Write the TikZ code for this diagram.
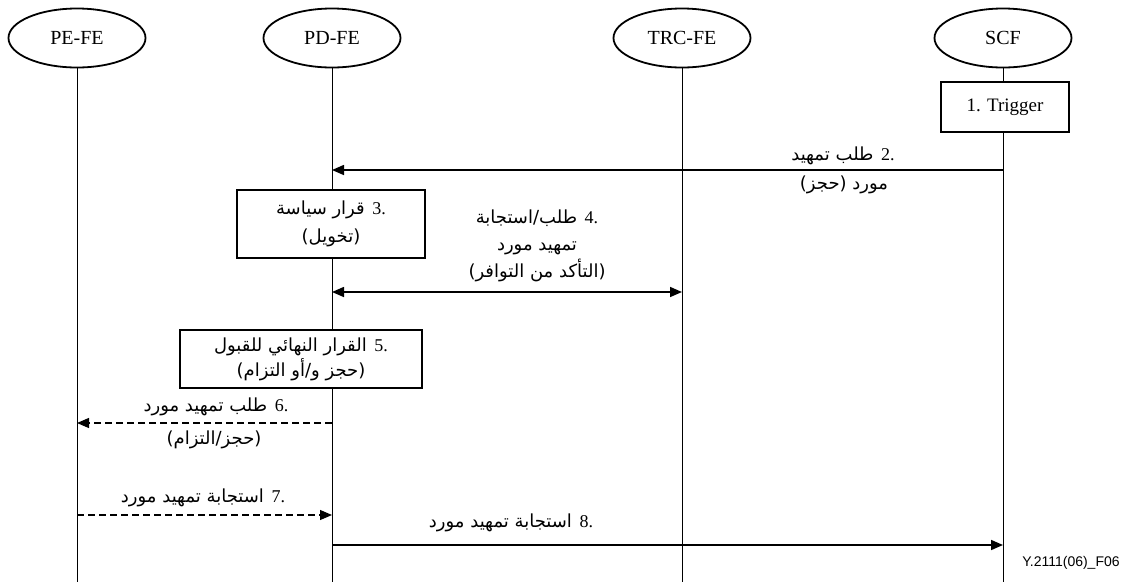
\documentclass[tikz,border=0pt]{standalone}
\usepackage{fontspec}
\setmainfont{Liberation Serif}
\newfontfamily\arabicfont[Script=Arabic]{DejaVu Sans}
\newfontfamily\figfont{Liberation Sans}
\TeXXeTstate=1
\usetikzlibrary{shapes.geometric,arrows.meta}
% one right-to-left line of Arabic, and a step number kept left-to-right inside it
\newcommand\artxt[1]{{\arabicfont\beginR #1\endR}}
\newcommand\stepno[1]{\beginL{\rmfamily #1}\endL{}}

\begin{document}
\begin{tikzpicture}[x=1pt,y=-1pt,
  entity/.style={ellipse,draw,line width=1.8pt,minimum width=137pt,minimum height=59pt,
    inner sep=0pt,font=\fontsize{20}{22}\selectfont},
  actbox/.style={draw,line width=2.6pt,fill=white,align=center,inner sep=0pt,
    font=\fontsize{18}{28}\selectfont},
  life/.style={line width=0.8pt},
  msg/.style={line width=1.6pt,-{Triangle[length=12pt,width=10pt]}},
  dmsg/.style={msg,line width=1.2pt,dash pattern=on 7pt off 4pt},
  lbl/.style={font=\fontsize{18}{27}\selectfont,inner sep=0pt,align=center}]
\useasboundingbox (0,0) rectangle (1133,582);

% functional entities
\node[entity] (pe)  at (77,38)   {PE-FE};
\node[entity] (pd)  at (332,38)  {PD-FE};
\node[entity] (trc) at (682,38)  {TRC-FE};
\node[entity] (scf) at (1003,38) {SCF};

% lifelines
\coordinate (bottom) at (0,582);
\draw[life] (pe.south)  -- (pe |- bottom);
\draw[life] (pd.south)  -- (pd |- bottom);
\draw[life] (trc.south) -- (trc |- bottom);
\draw[life] (scf.south) -- (scf |- bottom);

% actions on the lifelines
\node[actbox,minimum width=128pt,minimum height=50pt,font=\fontsize{19}{22}\selectfont]
  (trig) at (1005,107) {1. Trigger};
\node[actbox,minimum width=188pt,minimum height=68pt] (pol) at (331,224)
  {\artxt{\stepno{3.} قرار سياسة}\\\artxt{(تخويل)}};
\node[actbox,minimum width=242pt,minimum height=58pt,font=\fontsize{18}{25}\selectfont]
  (adm) at (301,359)
  {\artxt{\stepno{5.} القرار النهائي للقبول}\\\artxt{(حجز و/أو التزام)}};

% message end points on the lifelines
\coordinate (s2)  at (scf |- 0,170);  \coordinate (d2) at (pd |- 0,170);
\coordinate (s4)  at (pd |- 0,292);   \coordinate (d4) at (trc |- 0,292);
\coordinate (s6)  at (pd |- 0,423);   \coordinate (d6) at (pe |- 0,423);
\coordinate (s7)  at (pe |- 0,515);   \coordinate (d7) at (pd |- 0,515);
\coordinate (s8)  at (pd |- 0,545);   \coordinate (d8) at (scf |- 0,545);

% messages
\draw[msg]  (s2) -- (d2);
\draw[msg,{Triangle[length=12pt,width=10pt]}-{Triangle[length=12pt,width=10pt]}] (s4) -- (d4);
\draw[dmsg] (s6) -- (d6);
\draw[dmsg] (s7) -- (d7);
\draw[msg]  (s8) -- (d8);

% message labels
\node[lbl] (l2a) at (843,156) {\artxt{\stepno{2.} طلب تمهيد}};
\node[lbl] (l2b) at (844,185) {\artxt{مورد (حجز)}};
\node[lbl] (l4)  at (537,246)
  {\artxt{\stepno{4.} طلب/استجابة}\\\artxt{تمهيد مورد}\\\artxt{(التأكد من التوافر)}};
\node[lbl] (l6a) at (216,407) {\artxt{\stepno{6.} طلب تمهيد مورد}};
\node[lbl] (l6b) at (214,440) {\artxt{(حجز/التزام)}};
\node[lbl] (l7)  at (203,498) {\artxt{\stepno{7.} استجابة تمهيد مورد}};
\node[lbl] (l8)  at (511,523) {\artxt{\stepno{8.} استجابة تمهيد مورد}};

% figure number
\node[font=\figfont\fontsize{14}{16}\selectfont,inner sep=0pt] (fig) at (1071,563) {Y.2111(06)\_F06};
\end{tikzpicture}
\end{document}
